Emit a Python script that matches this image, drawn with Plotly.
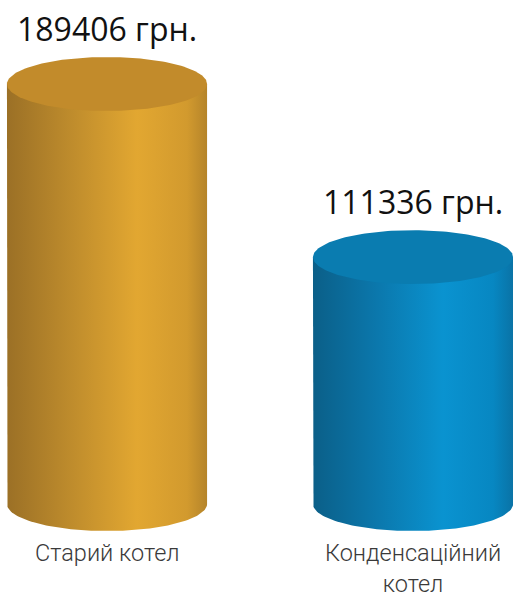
import numpy as np
import plotly.graph_objects as go

# Heating cost comparison: old boiler vs condensing boiler
categories = ["Старий котел", "Конденсаційний<br>котел"]
values = [189406, 111336]
value_labels = ["189406 грн.", "111336 грн."]

# Colour sets per cylinder: top cap, side gradient stops
cap_colors = ["#C28B2B", "#0A7CB0"]
side_scales = [
    [[0.0, "#9B7026"], [0.3, "#BC8A2C"], [0.65, "#E2A731"], [0.9, "#D29A2E"], [1.0, "#B5842A"]],
    [[0.0, "#0B5F88"], [0.3, "#0B76AA"], [0.65, "#0A93D0"], [0.9, "#0787C2"], [1.0, "#0A73A6"]],
]

# Geometry (in axis units)
rx = 0.327                    # half width of each cylinder
ymax = max(values)
ry = ymax * 27 / 420          # half height of the elliptical caps
y_lo = -ymax * 95 / 420
y_hi = ymax * 504 / 420
x_lo, x_hi = -0.3497, 1.3268

fig = go.Figure()
theta = np.linspace(0, np.pi, 90)
full = np.linspace(0, 2 * np.pi, 180)

for i, (cat, val) in enumerate(zip(categories, values)):
    cx = i
    # cylinder side: left edge down, lower half of the base ellipse, right edge up
    xs = np.concatenate([[cx - rx], cx - rx * np.cos(theta), [cx + rx]])
    ys = np.concatenate([[val], -ry * np.sin(theta), [val]])
    fig.add_trace(go.Scatter(
        x=xs, y=ys, mode="lines", fill="toself",
        line=dict(width=0),
        fillgradient=dict(type="horizontal", colorscale=side_scales[i],
                          start=cx - rx, stop=cx + rx),
        hoverinfo="skip", showlegend=False,
    ))
    # top cap ellipse
    fig.add_trace(go.Scatter(
        x=cx + rx * np.cos(full), y=val + ry * np.sin(full),
        mode="lines", fill="toself", fillcolor=cap_colors[i],
        line=dict(width=0), hoverinfo="skip", showlegend=False,
    ))
    # value label above the cap
    fig.add_annotation(
        x=cx, y=val + ry, text=value_labels[i], showarrow=False,
        yanchor="bottom", yshift=5,
        font=dict(family="Open Sans", size=32, color="#111111"),
    )
    # category label below the base
    fig.add_annotation(
        x=cx, y=0, text=cat, showarrow=False,
        yanchor="top", yshift=-33,
        font=dict(family="Roboto", size=23.5, color="#3A3A3A", weight=300),
    )

fig.update_layout(
    width=513, height=599,
    margin=dict(l=0, r=0, t=0, b=0),
    paper_bgcolor="white", plot_bgcolor="white",
    xaxis=dict(range=[x_lo, x_hi], visible=False, fixedrange=True),
    yaxis=dict(range=[y_lo, y_hi], visible=False, fixedrange=True),
)

fig.write_html("out.html")
